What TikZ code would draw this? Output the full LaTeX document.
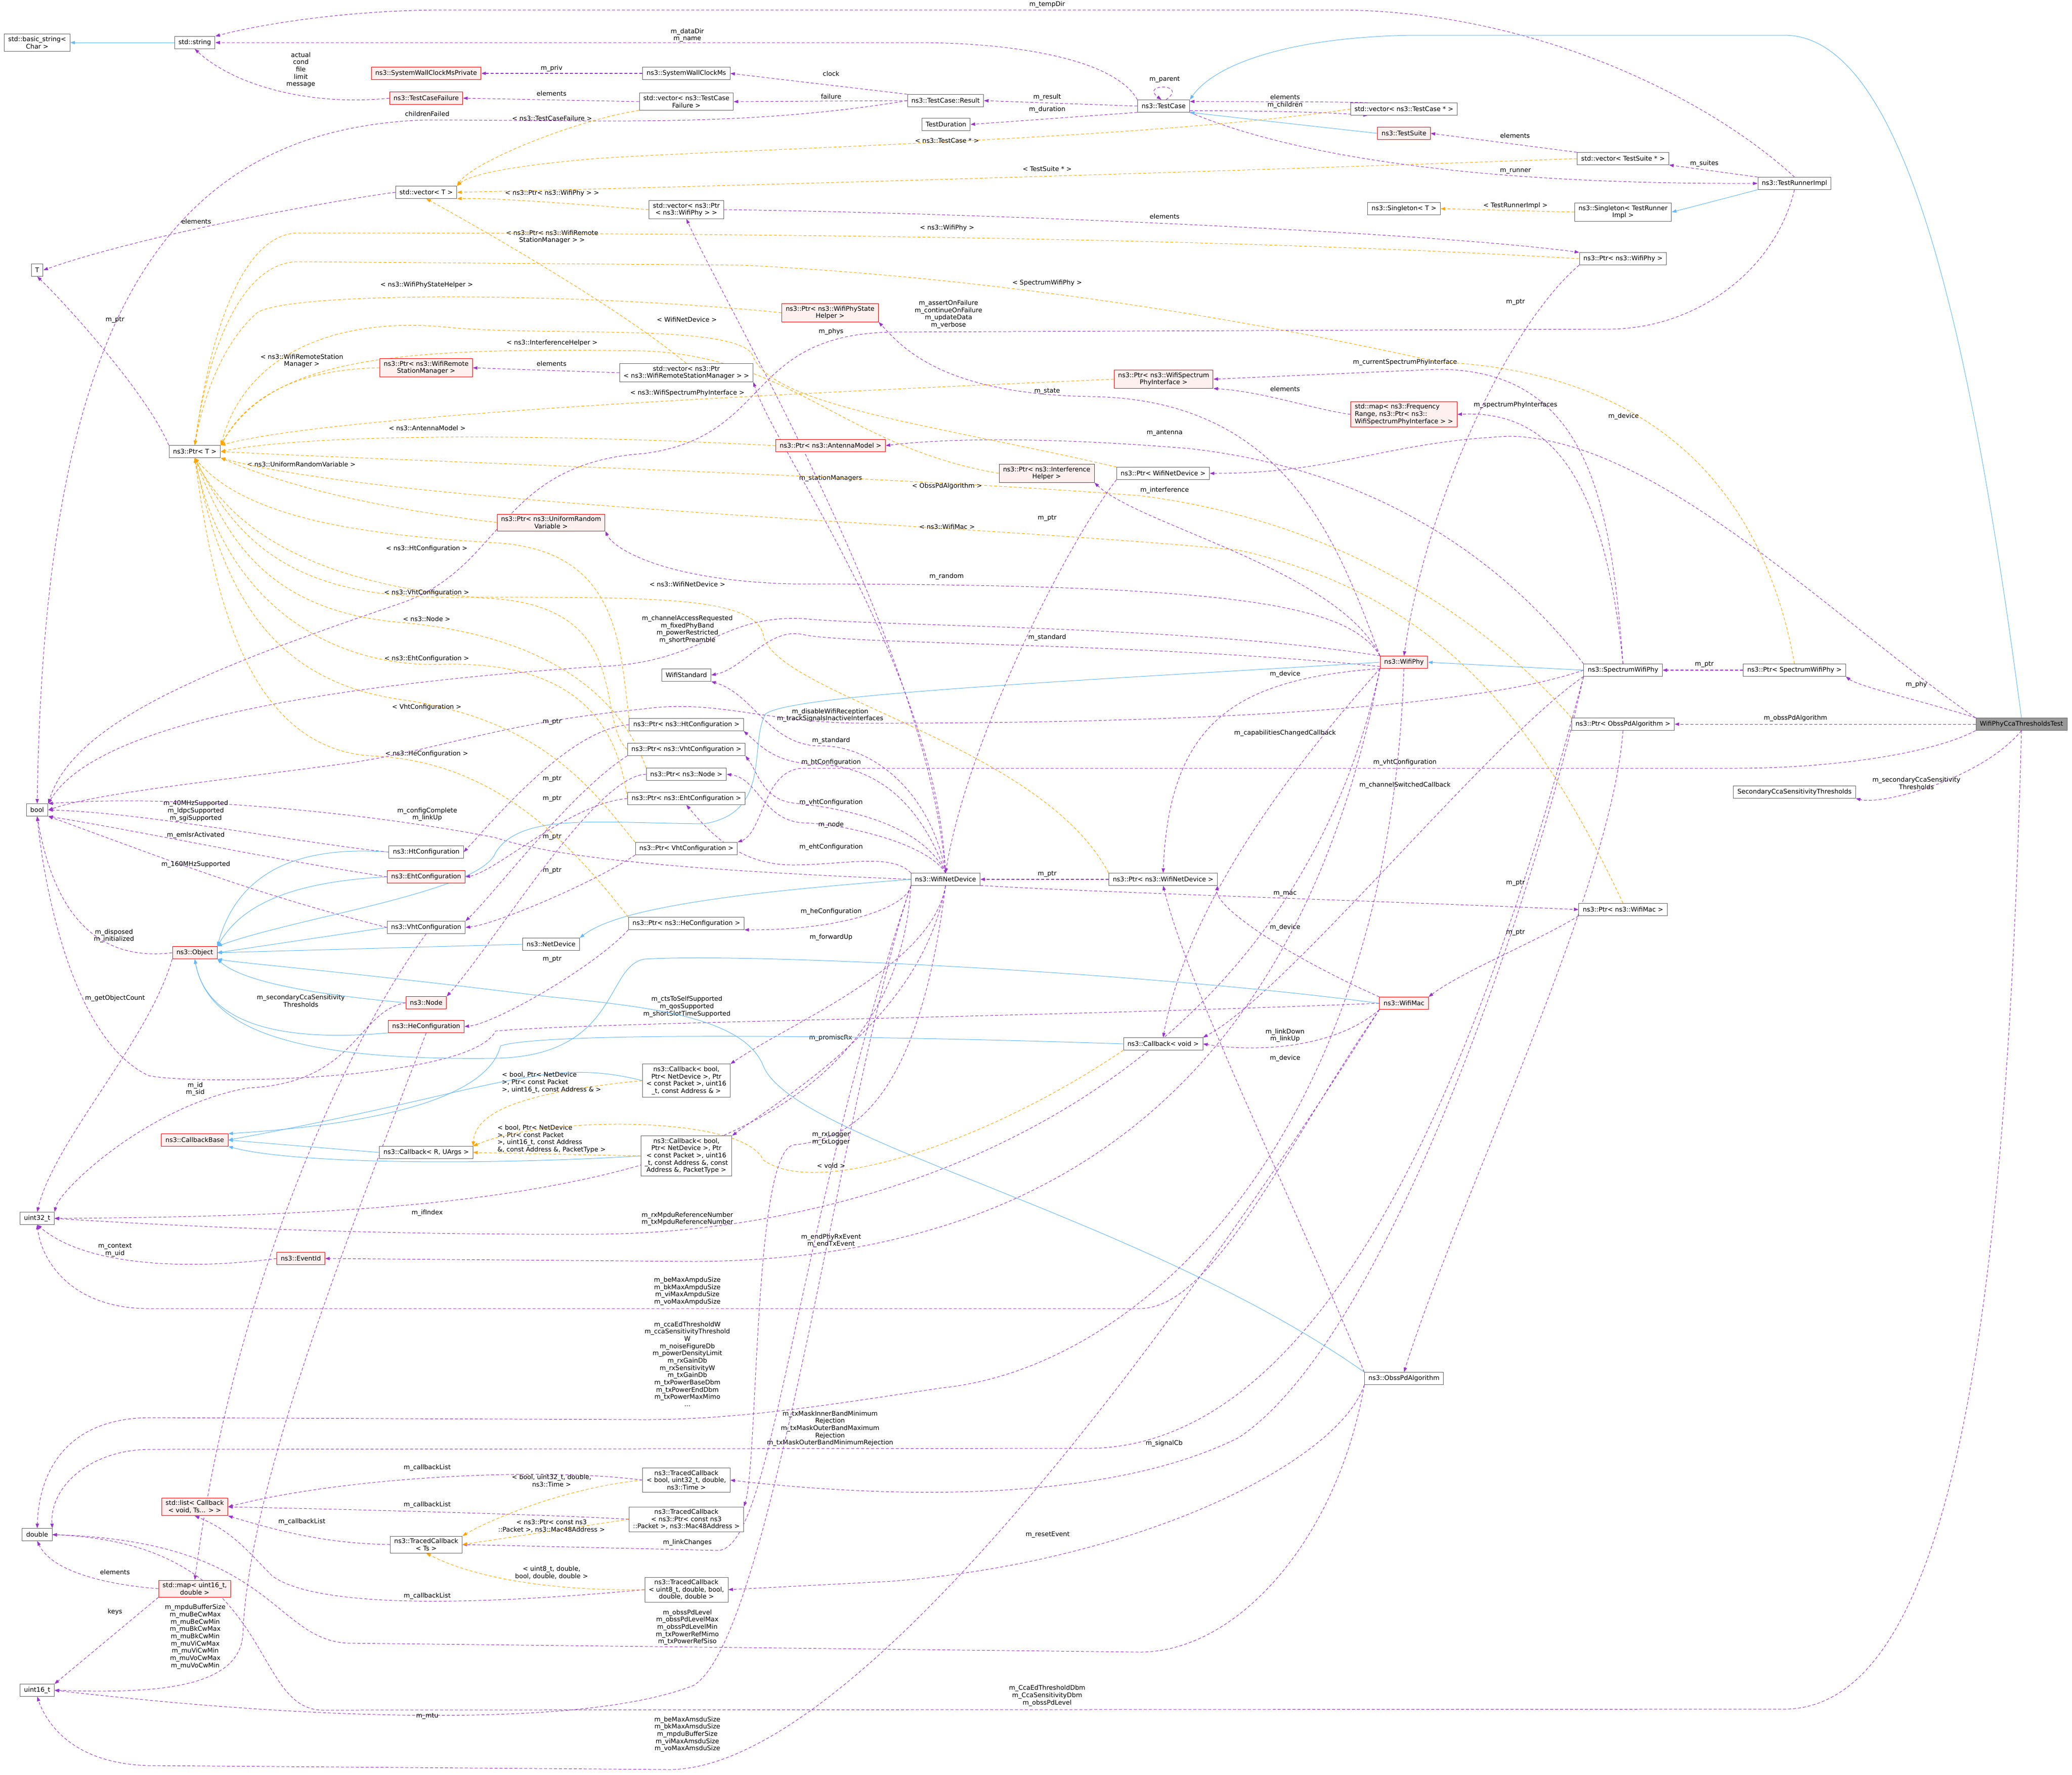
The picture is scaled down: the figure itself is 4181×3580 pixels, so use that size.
\documentclass[tikz,border=0pt]{standalone}
\usepackage{fontspec}
\setmainfont{DejaVu Sans}
\usetikzlibrary{arrows.meta,backgrounds}
\definecolor{memc}{HTML}{9A32CD}
\definecolor{inhc}{HTML}{63B8FF}
\definecolor{tmplc}{HTML}{FFA500}
\definecolor{boxgray}{HTML}{666666}
\definecolor{redfill}{HTML}{FFF0F0}
\definecolor{maingray}{HTML}{999999}
\begin{document}
\begin{tikzpicture}[x=0.75pt,y=-0.75pt,line cap=butt,line join=miter,>={Triangle[length=7pt,width=5pt]}]
\tikzset{
box/.style={draw=boxgray,fill=white,line width=0.75pt,font=\fontsize{9.7}{11}\selectfont,align=center,inner xsep=6pt,inner ysep=3.5pt,minimum height=18.5pt},
redbox/.style={box,draw=red,fill=redfill},
mainbox/.style={box,fill=maingray},
mem/.style={draw=memc,->,line width=0.75pt,dash pattern=on 4.5pt off 3pt},
tmpl/.style={mem,draw=tmplc},
inh/.style={draw=inhc,->,line width=0.75pt},
lbl/.style={font=\fontsize{9.7}{11}\selectfont,align=center,inner sep=0pt}
}
\useasboundingbox (0,0) rectangle (4181,3580);
\node[box] (bstr) at (75,86) {std::basic\_string<\\Char >};
\node[box] (str) at (393,86) {std::string};
\node[redbox] (swcmp) at (860,148) {ns3::SystemWallClockMsPrivate};
\node[redbox] (tcf) at (860,198) {ns3::TestCaseFailure};
\node[box] (vecT) at (860,388) {std::vector< T >};
\node[box] (T) at (75,545) {T};
\node[box] (ptrT) at (393,911) {ns3::Ptr< T >};
\node[redbox] (ptrWRSM) at (860,742) {ns3::Ptr< ns3::WifiRemote\\StationManager >};
\node[redbox] (ptrURV) at (1112,1054) {ns3::Ptr< ns3::UniformRandom\\Variable >};
\node[box] (htc) at (860,1719) {ns3::HtConfiguration};
\node[redbox] (ehtc) at (860,1769) {ns3::EhtConfiguration};
\node[box] (vhtc) at (860,1871) {ns3::VhtConfiguration};
\node[box] (netdev) at (1112,1905) {ns3::NetDevice};
\node[redbox] (object) at (393,1922) {ns3::Object};
\node[box] (nbool) at (75,1634) {bool};
\node[redbox] (node) at (860,2023) {ns3::Node};
\node[redbox] (hec) at (860,2071) {ns3::HeConfiguration};
\node[redbox] (cbbase) at (393,2300) {ns3::CallbackBase};
\node[box] (cbRU) at (860,2325) {ns3::Callback< R, UArgs >};
\node[box] (nuint32) at (75,2458) {uint32\_t};
\node[redbox] (eventid) at (607,2539) {ns3::EventId};
\node[box] (ndouble) at (75,3096) {double};
\node[redbox] (stdlist) at (393,3040) {std::list< Callback\\< void, Ts... > >};
\node[box] (tcTs) at (860,3116) {ns3::TracedCallback\\< Ts >};
\node[redbox] (map16) at (393,3205) {std::map< uint16\_t,\\double >};
\node[box] (nuint16) at (75,3410) {uint16\_t};
\node[box] (swcm) at (1385,148) {ns3::SystemWallClockMs};
\node[box] (vecTCF) at (1385,205) {std::vector< ns3::TestCase\\Failure >};
\node[box] (vecPtrPhy) at (1385,423) {std::vector< ns3::Ptr\\< ns3::WifiPhy > >};
\node[box] (vecPtrWRSM) at (1385,752) {std::vector< ns3::Ptr\\< ns3::WifiRemoteStationManager > >};
\node[box] (wstd) at (1385,1362) {WifiStandard};
\node[box] (ptrHt) at (1385,1462) {ns3::Ptr< ns3::HtConfiguration >};
\node[box] (ptrVht) at (1385,1512) {ns3::Ptr< ns3::VhtConfiguration >};
\node[box] (ptrNode) at (1385,1562) {ns3::Ptr< ns3::Node >};
\node[box] (ptrEht) at (1385,1611) {ns3::Ptr< ns3::EhtConfiguration >};
\node[box] (ptrVhtC) at (1385,1712) {ns3::Ptr< VhtConfiguration >};
\node[box] (ptrHe) at (1385,1863) {ns3::Ptr< ns3::HeConfiguration >};
\node[box] (cb4) at (1385,2180) {ns3::Callback< bool,\\Ptr< NetDevice >, Ptr\\< const Packet >, uint16\\\_t, const Address \& >};
\node[box] (cb5) at (1385,2332) {ns3::Callback< bool,\\Ptr< NetDevice >, Ptr\\< const Packet >, uint16\\\_t, const Address \&, const\\Address \&, PacketType >};
\node[box] (tcBool) at (1385,2986) {ns3::TracedCallback\\< bool, uint32\_t, double,\\ns3::Time >};
\node[box] (tcPkt) at (1385,3065) {ns3::TracedCallback\\< ns3::Ptr< const ns3\\::Packet >, ns3::Mac48Address >};
\node[box] (tcU8) at (1385,3207) {ns3::TracedCallback\\< uint8\_t, double, bool,\\double, double >};
\node[redbox] (ptrState) at (1675,631) {ns3::Ptr< ns3::WifiPhyState\\Helper >};
\node[redbox] (ptrAnt) at (1676,899) {ns3::Ptr< ns3::AntennaModel >};
\node[box] (result) at (1908,203) {ns3::TestCase::Result};
\node[box] (tdur) at (1909,251) {TestDuration};
\node[box] (wnd) at (1908,1774) {ns3::WifiNetDevice};
\node[redbox] (ptrIH) at (2112,955) {ns3::Ptr< ns3::Interference\\Helper >};
\node[box] (testcase) at (2348,214) {ns3::TestCase};
\node[redbox] (ptrWSPI) at (2348,765) {ns3::Ptr< ns3::WifiSpectrum\\PhyInterface >};
\node[box] (ptrWndT) at (2347,955) {ns3::Ptr< WifiNetDevice >};
\node[box] (ptrWnd) at (2347,1774) {ns3::Ptr< ns3::WifiNetDevice >};
\node[box] (cbVoid) at (2347,2106) {ns3::Callback< void >};
\node[box] (vecTC) at (2833,220) {std::vector< ns3::TestCase * >};
\node[redbox] (suite) at (2833,269) {ns3::TestSuite};
\node[box] (singT) at (2833,421) {ns3::Singleton< T >};
\node[redbox,align=left] (mapFR) at (2833,836) {std::map< ns3::Frequency\\Range, ns3::Ptr< ns3::\\WifiSpectrumPhyInterface > >};
\node[redbox] (wifiphy) at (2833,1336) {ns3::WifiPhy};
\node[redbox] (wifimac) at (2833,2024) {ns3::WifiMac};
\node[box] (obss) at (2833,2781) {ns3::ObssPdAlgorithm};
\node[box] (vecTS) at (3275,320) {std::vector< TestSuite * >};
\node[box] (singTR) at (3275,428) {ns3::Singleton< TestRunner\\Impl >};
\node[box] (ptrPhy) at (3275,522) {ns3::Ptr< ns3::WifiPhy >};
\node[box] (swphy) at (3275,1352) {ns3::SpectrumWifiPhy};
\node[box] (ptrObss) at (3275,1461) {ns3::Ptr< ObssPdAlgorithm >};
\node[box] (ptrMac) at (3275,1835) {ns3::Ptr< ns3::WifiMac >};
\node[box] (runner) at (3621,370) {ns3::TestRunnerImpl};
\node[box] (ptrSwphy) at (3621,1352) {ns3::Ptr< SpectrumWifiPhy >};
\node[box] (secCca) at (3621,1598) {SecondaryCcaSensitivityThresholds};
\node[mainbox] (main) at (4079,1461) {WifiPhyCcaThresholdsTest};
\begin{scope}[on background layer]
\draw[mem] (testcase.north west) .. controls (2250,120) and (2050,86) .. (1850,86) -- (str.east) node[lbl] at (1387,71) {m\_dataDir\\m\_name};
\draw[mem] (runner.north) .. controls (3450,200) and (3100,22) .. (2700,20) -- (900,20) .. controls (700,20) and (520,50) .. (str.north east) node[lbl] at (2113,9) {m\_tempDir};
\draw[mem] (tcf.west) .. controls (620,215) and (470,170) .. (str.south) node[lbl] at (607,141) {actual\\cond\\file\\limit\\message};
\draw[mem,line width=1.5pt] (swcm.west) -- (swcmp.east) node[lbl] at (1113,138) {m\_priv};
\draw[mem] (vecTCF.west) -- (tcf.east) node[lbl] at (1113,189) {elements};
\draw[mem] (result.west) .. controls (1500,258) and (1200,242) .. (860,242) .. controls (300,260) and (90,700) .. (nbool.north) node[lbl] at (862,230) {childrenFailed};
\draw[mem] (result.north west) -- (swcm.east) node[lbl] at (1677,149) {clock};
\draw[mem] (result.west) -- (vecTCF.east) node[lbl] at (1677,195) {failure};
\draw[mem] (testcase.west) -- (result.east) node[lbl] at (2113,196) {m\_result};
\draw[mem] (testcase.south west) -- (tdur.east) node[lbl] at (2113,221) {m\_duration};
\draw[mem] (testcase.70) .. controls (2400,168) and (2300,168) .. (testcase.110) node[lbl] at (2350,160) {m\_parent};
\draw[mem] (vecTC.170) .. controls (2700,205) and (2500,205) .. (testcase.10) node[lbl] at (2593,196) {elements};
\draw[mem] (testcase.350) .. controls (2500,224) and (2650,224) .. (vecTC.190) node[lbl] at (2593,212) {m\_children};
\draw[mem] (vecTS.north west) -- (suite.east) node[lbl] at (3057,274) {elements};
\draw[mem] (runner.north west) -- (vecTS.south east) node[lbl] at (3439,330) {m\_suites};
\draw[mem] (testcase.south east) .. controls (2600,310) and (2950,372) .. (runner.west) node[lbl] at (3058,345) {m\_runner};
\draw[mem] (runner.south) .. controls (3580,550) and (3420,662) .. (3250,664) -- (1800,670) .. controls (1500,675) and (1560,880) .. (1300,915) .. controls (1000,935) and (1020,1150) .. (800,1220) .. controls (450,1340) and (150,1450) .. (nbool.north east) node[lbl] at (1914,634) {m\_assertOnFailure\\m\_continueOnFailure\\m\_updateData\\m\_verbose};
\draw[mem] (vecPtrPhy.east) .. controls (2000,430) and (2900,470) .. (ptrPhy.north west) node[lbl] at (2350,437) {elements};
\draw[mem] (wnd.north) .. controls (1870,1300) and (1480,650) .. (vecPtrPhy.south) node[lbl] at (1677,669) {m\_phys};
\draw[mem] (vecPtrWRSM.west) -- (ptrWRSM.east) node[lbl] at (1113,734) {elements};
\draw[mem] (wnd.north) .. controls (1890,1350) and (1560,900) .. (vecPtrWRSM.south east) node[lbl] at (1676,965) {m\_stationManagers};
\draw[mem] (wifiphy.north west) .. controls (2700,1100) and (2600,805) .. (2200,800) .. controls (1900,795) and (1820,700) .. (ptrState.south east) node[lbl] at (2113,789) {m\_state};
\draw[mem] (ptrPhy.south west) .. controls (3050,650) and (2880,1000) .. (wifiphy.north) node[lbl] at (3058,609) {m\_ptr};
\draw[mem] (swphy.north) .. controls (3250,1000) and (3200,745) .. (2900,745) -- (ptrWSPI.east) node[lbl] at (2835,731) {m\_currentSpectrumPhyInterface};
\draw[mem] (mapFR.west) .. controls (2650,826) and (2550,790) .. (ptrWSPI.south east) node[lbl] at (2593,785) {elements};
\draw[mem] (swphy.north) .. controls (3240,1000) and (3150,826) .. (mapFR.east) node[lbl] at (3058,817) {m\_spectrumPhyInterfaces};
\draw[mem] (main.north west) .. controls (3700,1250) and (3350,890) .. (3050,880) .. controls (2800,890) and (2700,955) .. (ptrWndT.east) node[lbl] at (3276,840) {m\_device};
\draw[mem] (swphy.north west) .. controls (3050,1150) and (2800,950) .. (2400,905) .. controls (2100,880) and (1900,885) .. (ptrAnt.east) node[lbl] at (2350,873) {m\_antenna};
\draw[mem] (wifiphy.north west) .. controls (2700,1150) and (2300,1060) .. (ptrIH.south east) node[lbl] at (2350,989) {m\_interference};
\draw[mem] (wifiphy.north west) .. controls (2720,1220) and (2500,1178) .. (1600,1178) .. controls (1350,1172) and (1240,1110) .. (ptrURV.south east) node[lbl] at (1910,1163) {m\_random};
\draw[mem] (wifiphy.165) .. controls (2400,1262) and (1800,1265) .. (1620,1248) .. controls (1450,1240) and (1420,1340) .. (1200,1345) .. controls (700,1380) and (200,1450) .. (nbool.north east) node[lbl] at (1387,1270) {m\_channelAccessRequested\\m\_fixedPhyBand\\m\_powerRestricted\\m\_shortPreamble};
\draw[mem] (wifiphy.190) .. controls (2300,1296) and (1700,1300) .. (1620,1280) .. controls (1550,1265) and (1500,1350) .. (wstd.east) node[lbl] at (2113,1286) {m\_standard};
\draw[mem] (wnd.north) .. controls (1880,1600) and (1760,1500) .. (1650,1505) .. controls (1550,1500) and (1520,1400) .. (wstd.south east) node[lbl] at (1677,1494) {m\_standard};
\draw[mem] (swphy.west) .. controls (3000,1420) and (2500,1460) .. (1750,1459) .. controls (1550,1460) and (1450,1410) .. (1300,1430) .. controls (1000,1460) and (900,1510) .. (700,1540) .. controls (400,1580) and (200,1600) .. (nbool.east) node[lbl] at (1675,1443) {m\_disableWifiReception\\m\_trackSignalsInactiveInterfaces};
\draw[mem] (wnd.north) .. controls (1850,1600) and (1750,1545) .. (1650,1542) .. controls (1560,1540) and (1530,1500) .. (ptrHt.south east) node[lbl] at (1677,1538) {m\_htConfiguration};
\draw[mem] (main.south west) .. controls (3900,1520) and (3700,1550) .. (3500,1550) -- (1620,1550) .. controls (1540,1552) and (1540,1680) .. (ptrVhtC.north east) node[lbl] at (2835,1538) {m\_vhtConfiguration};
\draw[mem] (wnd.north) .. controls (1860,1660) and (1700,1630) .. (1600,1620) .. controls (1540,1612) and (1530,1560) .. (ptrVht.south east) node[lbl] at (1677,1619) {m\_vhtConfiguration};
\draw[mem] (wnd.north) .. controls (1870,1700) and (1700,1662) .. (1620,1660) .. controls (1540,1655) and (1530,1570) .. (ptrNode.east) node[lbl] at (1677,1664) {m\_node};
\draw[mem] (wnd.north west) .. controls (1800,1720) and (1700,1745) .. (1600,1745) .. controls (1500,1745) and (1440,1690) .. (ptrEht.south) node[lbl] at (1677,1709) {m\_ehtConfiguration};
\draw[mem] (wnd.south west) .. controls (1830,1830) and (1700,1877) .. (ptrHe.south east) node[lbl] at (1677,1839) {m\_heConfiguration};
\draw[mem] (ptrHt.west) .. controls (1150,1470) and (1000,1650) .. (htc.east) node[lbl] at (1114,1456) {m\_ptr};
\draw[mem] (ptrNode.west) .. controls (1200,1565) and (1000,1900) .. (node.north east) node[lbl] at (1114,1571) {m\_ptr};
\draw[mem] (ptrEht.west) .. controls (1150,1620) and (1000,1760) .. (ehtc.east) node[lbl] at (1114,1611) {m\_ptr};
\draw[mem] (ptrVht.south west) .. controls (1150,1600) and (1000,1800) .. (vhtc.north east) node[lbl] at (1114,1688) {m\_ptr};
\draw[mem] (ptrVhtC.south west) .. controls (1200,1780) and (1000,1865) .. (vhtc.east) node[lbl] at (1114,1756) {m\_ptr};
\draw[mem] (ptrHe.south west) .. controls (1200,1950) and (1000,2065) .. (hec.east) node[lbl] at (1114,1935) {m\_ptr};
\draw[mem] (htc.west) .. controls (600,1700) and (300,1640) .. (nbool.east) node[lbl] at (395,1636) {m\_40MHzSupported\\m\_ldpcSupported\\m\_sgiSupported};
\draw[mem] (ehtc.west) .. controls (500,1725) and (300,1680) .. (nbool.south east) node[lbl] at (395,1685) {m\_emlsrActivated};
\draw[mem] (vhtc.west) .. controls (500,1800) and (300,1720) .. (nbool.south east) node[lbl] at (395,1744) {m\_160MHzSupported};
\draw[mem] (wnd.west) .. controls (1500,1760) and (1150,1740) .. (1000,1690) .. controls (800,1650) and (400,1600) .. (nbool.north east) node[lbl] at (862,1643) {m\_configComplete\\m\_linkUp};
\draw[mem] (object.west) .. controls (200,1940) and (110,1850) .. (nbool.south) node[lbl] at (230,1888) {m\_disposed\\m\_initialized};
\draw[mem] (object.south west) .. controls (300,2100) and (110,2300) .. (nuint32.north) node[lbl] at (232,2014) {m\_getObjectCount};
\draw[mem] (node.west) .. controls (720,2040) and (720,2185) .. (500,2195) .. controls (300,2230) and (120,2400) .. (nuint32.north east) node[lbl] at (394,2197) {m\_id\\m\_sid};
\draw[mem] (wifimac.west) .. controls (2000,2055) and (1200,2062) .. (1000,2080) .. controls (950,2180) and (400,2190) .. (300,2170) .. controls (150,2100) and (90,1800) .. (nbool.south) node[lbl] at (1386,2031) {m\_ctsToSelfSupported\\m\_qosSupported\\m\_shortSlotTimeSupported};
\draw[mem] (wnd.south west) .. controls (1800,2400) and (1000,2452) .. (nuint32.east) node[lbl] at (862,2447) {m\_ifIndex};
\draw[mem] (wifiphy.south west) .. controls (2600,2200) and (1800,2487) .. (1200,2490) .. controls (700,2492) and (300,2470) .. (nuint32.east) node[lbl] at (1387,2459) {m\_rxMpduReferenceNumber\\m\_txMpduReferenceNumber};
\draw[mem] (wifiphy.south west) .. controls (2600,2300) and (2000,2542) .. (1400,2545) -- (eventid.east) node[lbl] at (1677,2503) {m\_endPhyRxEvent\\m\_endTxEvent};
\draw[mem] (eventid.west) .. controls (400,2560) and (180,2560) .. (nuint32.south) node[lbl] at (232,2522) {m\_context\\m\_uid};
\draw[mem] (wifimac.south west) .. controls (2600,2300) and (2450,2640) .. (2300,2640) -- (300,2640) .. controls (150,2640) and (85,2550) .. (nuint32.south) node[lbl] at (1387,2605) {m\_beMaxAmpduSize\\m\_bkMaxAmpduSize\\m\_viMaxAmpduSize\\m\_voMaxAmpduSize};
\draw[mem] (wifiphy.south) .. controls (2800,2300) and (2300,2760) .. (1900,2800) .. controls (1700,2830) and (1500,2864) .. (1300,2864) -- (300,2860) .. controls (150,2862) and (80,2950) .. (ndouble.north) node[lbl] at (1387,2752) {m\_ccaEdThresholdW\\m\_ccaSensitivityThreshold\\W\\m\_noiseFigureDb\\m\_powerDensityLimit\\m\_rxGainDb\\m\_rxSensitivityW\\m\_txGainDb\\m\_txPowerBaseDbm\\m\_txPowerEndDbm\\m\_txPowerMaxMimo\\...};
\draw[mem] (swphy.south west) .. controls (3000,2100) and (2700,2914) .. (2200,2922) -- (300,2924) .. controls (180,2926) and (100,3000) .. (ndouble.north east) node[lbl] at (1675,2882) {m\_txMaskInnerBandMinimum\\Rejection\\m\_txMaskOuterBandMaximum\\Rejection\\m\_txMaskOuterBandMinimumRejection};
\draw[mem] (obss.south west) .. controls (2700,3100) and (2500,3333) .. (2300,3333) -- (700,3315) .. controls (550,3305) and (550,3110) .. (ndouble.east) node[lbl] at (1387,3283) {m\_obssPdLevel\\m\_obssPdLevelMax\\m\_obssPdLevelMin\\m\_txPowerRefMimo\\m\_txPowerRefSiso};
\draw[mem] (main.south) .. controls (4050,2600) and (3950,3448) .. (3600,3448) -- (650,3450) .. controls (500,3447) and (560,3115) .. (ndouble.east) node[lbl] at (2113,3421) {m\_CcaEdThresholdDbm\\m\_CcaSensitivityDbm\\m\_obssPdLevel};
\draw[mem] (wnd.south west) .. controls (1700,2200) and (1560,3300) .. (1400,3400) .. controls (1200,3480) and (700,3478) .. (nuint16.east) node[lbl] at (862,3462) {m\_mtu};
\draw[mem] (hec.south) .. controls (700,2500) and (500,3000) .. (490,3300) .. controls (480,3410) and (300,3416) .. (nuint16.east) node[lbl] at (394,3302) {m\_mpduBufferSize\\m\_muBeCwMax\\m\_muBeCwMin\\m\_muBkCwMax\\m\_muBkCwMin\\m\_muViCwMax\\m\_muViCwMin\\m\_muVoCwMax\\m\_muVoCwMin};
\draw[mem] (wifimac.south west) .. controls (2300,2800) and (1700,3570) .. (1350,3570) -- (300,3562) .. controls (150,3558) and (95,3480) .. (nuint16.south) node[lbl] at (1387,3499) {m\_beMaxAmsduSize\\m\_bkMaxAmsduSize\\m\_mpduBufferSize\\m\_viMaxAmsduSize\\m\_voMaxAmsduSize};
\draw[mem] (map16.west) .. controls (250,3200) and (110,3180) .. (ndouble.south) node[lbl] at (232,3172) {elements};
\draw[mem] (map16.south west) -- (nuint16.north east) node[lbl] at (232,3252) {keys};
\draw[mem] (vhtc.south) .. controls (700,2100) and (470,2600) .. (map16.north) node[lbl] at (607,2019) {m\_secondaryCcaSensitivity\\Thresholds};
\draw[mem] (tcBool.west) .. controls (1100,2960) and (700,2978) .. (stdlist.east) node[lbl] at (862,2961) {m\_callbackList};
\draw[mem] (tcPkt.west) .. controls (1100,3055) and (700,3045) .. (stdlist.east) node[lbl] at (862,3036) {m\_callbackList};
\draw[mem] (tcTs.west) .. controls (650,3114) and (550,3085) .. (stdlist.south east) node[lbl] at (609,3070) {m\_callbackList};
\draw[mem] (tcU8.west) .. controls (1000,3235) and (650,3250) .. (550,3180) .. controls (500,3130) and (470,3090) .. (stdlist.south) node[lbl] at (862,3220) {m\_callbackList};
\draw[mem] (wnd.south west) .. controls (1600,2500) and (1560,3120) .. (1450,3128) -- (tcTs.east) node[lbl] at (1387,3112) {m\_linkChanges};
\draw[mem] (wnd.south) .. controls (1850,2250) and (1700,2300) .. (1600,2310) .. controls (1520,2330) and (1530,2950) .. (tcPkt.north east) node[lbl] at (1677,2297) {m\_rxLogger\\m\_txLogger};
\draw[mem] (wnd.south) .. controls (1880,1950) and (1600,2060) .. (cb4.north east) node[lbl] at (1677,1891) {m\_forwardUp};
\draw[mem] (wnd.south) .. controls (1860,2050) and (1600,2200) .. (cb5.north east) node[lbl] at (1676,2094) {m\_promiscRx};
\draw[mem] (swphy.south west) .. controls (3100,1800) and (2800,2700) .. (2500,2900) .. controls (2200,3050) and (1700,3012) .. (tcBool.east) node[lbl] at (2349,2912) {m\_signalCb};
\draw[mem] (obss.south west) .. controls (2700,2950) and (2300,3150) .. (1800,3190) -- (tcU8.east) node[lbl] at (2114,3096) {m\_resetEvent};
\draw[mem] (wifiphy.south west) .. controls (2650,1500) and (2400,1800) .. (cbVoid.north) node[lbl] at (2593,1479) {m\_capabilitiesChangedCallback};
\draw[mem] (swphy.south west) .. controls (3000,1500) and (2600,2000) .. (cbVoid.north east) node[lbl] at (2835,1584) {m\_channelSwitchedCallback};
\draw[mem] (wifimac.south west) .. controls (2700,2110) and (2550,2125) .. (cbVoid.east) node[lbl] at (2593,2089) {m\_linkDown\\m\_linkUp};
\draw[mem] (wifiphy.south west) .. controls (2500,1370) and (2360,1450) .. (ptrWnd.north) node[lbl] at (2593,1360) {m\_device};
\draw[mem] (wifimac.north west) .. controls (2600,1930) and (2450,1830) .. (ptrWnd.south east) node[lbl] at (2593,1871) {m\_device};
\draw[mem] (obss.north west) .. controls (2600,2400) and (2400,2000) .. (ptrWnd.south) node[lbl] at (2593,2135) {m\_device};
\draw[mem,line width=1.5pt] (ptrWnd.west) -- (wnd.east) node[lbl] at (2113,1763) {m\_ptr};
\draw[mem] (wnd.350) .. controls (2200,1800) and (2800,1818) .. (ptrMac.west) node[lbl] at (2593,1803) {m\_mac};
\draw[mem] (ptrMac.south west) .. controls (3100,1900) and (2950,1960) .. (wifimac.north east) node[lbl] at (3058,1881) {m\_ptr};
\draw[mem] (ptrObss.south) .. controls (3250,1800) and (2950,2400) .. (obss.north) node[lbl] at (3058,1781) {m\_ptr};
\draw[mem,line width=1.5pt] (ptrSwphy.west) -- (swphy.east) node[lbl] at (3439,1340) {m\_ptr};
\draw[mem] (main.north west) .. controls (3900,1420) and (3750,1385) .. (ptrSwphy.south east) node[lbl] at (3867,1381) {m\_phy};
\draw[mem] (main.west) -- (ptrObss.east) node[lbl] at (3623,1449) {m\_obssPdAlgorithm};
\draw[mem] (main.south) .. controls (4000,1570) and (3800,1625) .. (secCca.south east) node[lbl] at (3867,1580) {m\_secondaryCcaSensitivity\\Thresholds};
\draw[mem] (ptrT.north west) .. controls (300,800) and (140,620) .. (T.south) node[lbl] at (232,645) {m\_ptr};
\draw[mem] (vecT.west) .. controls (700,400) and (300,470) .. (T.east) node[lbl] at (396,447) {elements};
\draw[mem] (ptrWndT.south west) .. controls (2150,1100) and (1950,1500) .. (wnd.north) node[lbl] at (2113,1045) {m\_ptr};
\draw[inh] (str.west) -- (bstr.east);
\draw[inh] (suite.west) -- (testcase.south east);
\draw[inh] (main.north) .. controls (3980,700) and (3850,71) .. (3600,71) -- (2850,71) .. controls (2600,75) and (2450,130) .. (testcase.north east);
\draw[inh] (runner.south west) -- (singTR.east);
\draw[inh] (swphy.west) -- (wifiphy.east);
\draw[inh] (wifiphy.west) .. controls (2200,1372) and (1600,1400) .. (1545,1440) .. controls (1510,1500) and (1560,1640) .. (1420,1662) .. controls (1200,1660) and (1050,1640) .. (1000,1720) .. controls (970,1800) and (600,1850) .. (object.north east);
\draw[inh] (htc.west) .. controls (600,1705) and (480,1760) .. (object.north east);
\draw[inh] (ehtc.west) .. controls (560,1780) and (480,1840) .. (object.north east);
\draw[inh] (vhtc.west) -- (object.east);
\draw[inh] (netdev.west) -- (object.east);
\draw[inh] (node.west) .. controls (700,2012) and (500,1990) .. (object.south east);
\draw[inh] (hec.south west) .. controls (600,2100) and (420,2080) .. (object.south);
\draw[inh] (wifimac.west) .. controls (2300,1960) and (1500,1922) .. (1300,1935) .. controls (1220,1950) and (1250,2130) .. (1000,2135) .. controls (600,2140) and (420,2080) .. (object.south);
\draw[inh] (obss.north west) .. controls (2300,2450) and (1600,2300) .. (1540,2150) .. controls (1500,2050) and (1300,2030) .. (1100,2010) .. controls (700,1960) and (500,1945) .. (object.south east);
\draw[inh] (wnd.west) .. controls (1500,1800) and (1250,1830) .. (netdev.north east);
\draw[inh] (cbVoid.west) .. controls (1800,2090) and (1100,2080) .. (1010,2110) .. controls (980,2230) and (700,2272) .. (cbbase.north east);
\draw[inh] (cb4.west) .. controls (1100,2130) and (1000,2200) .. (cbbase.east);
\draw[inh] (cbRU.west) -- (cbbase.east);
\draw[inh] (cb5.west) .. controls (1000,2350) and (600,2350) .. (cbbase.south east);
\draw[tmpl] (vecTCF.south west) .. controls (1150,245) and (950,330) .. (vecT.north east) node[lbl] at (1114,239) {< ns3::TestCaseFailure >};
\draw[tmpl] (vecTC.west) .. controls (2300,282) and (1500,300) .. (1200,320) .. controls (1050,333) and (950,350) .. (vecT.north east) node[lbl] at (1911,284) {< ns3::TestCase * >};
\draw[tmpl] (vecTS.west) .. controls (2500,345) and (1500,375) .. (vecT.east) node[lbl] at (2113,341) {< TestSuite * >};
\draw[tmpl] (vecPtrPhy.west) .. controls (1200,415) and (1000,398) .. (vecT.south east) node[lbl] at (1114,390) {< ns3::Ptr< ns3::WifiPhy > >};
\draw[tmpl] (vecPtrWRSM.north) .. controls (1250,620) and (950,450) .. (vecT.south) node[lbl] at (1114,478) {< ns3::Ptr< ns3::WifiRemote\\StationManager > >};
\draw[tmpl] (singTR.west) -- (singT.east) node[lbl] at (3058,415) {< TestRunnerImpl >};
\draw[tmpl] (ptrPhy.west) .. controls (2500,480) and (1500,470) .. (600,470) .. controls (480,474) and (420,700) .. (ptrT.north) node[lbl] at (1911,460) {< ns3::WifiPhy >};
\draw[tmpl] (ptrSwphy.north) .. controls (3560,1000) and (3350,750) .. (2900,730) .. controls (2500,640) and (2000,560) .. (1500,535) -- (600,528) .. controls (490,530) and (420,700) .. (ptrT.north) node[lbl] at (2113,571) {< SpectrumWifiPhy >};
\draw[tmpl] (ptrState.west) .. controls (1200,592) and (600,585) .. (520,630) .. controls (450,690) and (410,800) .. (ptrT.north) node[lbl] at (861,575) {< ns3::WifiPhyStateHelper >};
\draw[tmpl] (ptrWndT.north west) .. controls (1900,860) and (1560,820) .. (1520,720) .. controls (1500,650) and (1100,680) .. (900,660) .. controls (700,640) and (500,700) .. (ptrT.north east) node[lbl] at (1386,645) {< WifiNetDevice >};
\draw[tmpl] (ptrIH.west) .. controls (1700,900) and (1600,720) .. (1300,708) .. controls (800,700) and (550,720) .. (ptrT.north east) node[lbl] at (1114,692) {< ns3::InterferenceHelper >};
\draw[tmpl] (ptrWRSM.west) .. controls (600,745) and (500,800) .. (ptrT.north east) node[lbl] at (609,728) {< ns3::WifiRemoteStation\\Manager >};
\draw[tmpl] (ptrWSPI.west) .. controls (1800,785) and (700,830) .. (ptrT.north east) node[lbl] at (1387,793) {< ns3::WifiSpectrumPhyInterface >};
\draw[tmpl] (ptrAnt.west) .. controls (1000,870) and (600,880) .. (ptrT.east) node[lbl] at (862,864) {< ns3::AntennaModel >};
\draw[tmpl] (ptrURV.west) .. controls (800,1030) and (600,990) .. (ptrT.south east) node[lbl] at (608,937) {< ns3::UniformRandomVariable >};
\draw[tmpl] (ptrObss.north west) .. controls (3000,1250) and (2700,1050) .. (2300,1000) .. controls (1800,960) and (800,930) .. (ptrT.east) node[lbl] at (1911,981) {< ObssPdAlgorithm >};
\draw[tmpl] (ptrMac.north) .. controls (3100,1450) and (2900,1200) .. (2500,1110) .. controls (2000,1060) and (800,1020) .. (ptrT.south east) node[lbl] at (1911,1063) {< ns3::WifiMac >};
\draw[tmpl] (ptrWnd.north west) .. controls (2100,1500) and (1560,1400) .. (1540,1280) .. controls (1520,1200) and (1300,1205) .. (900,1205) .. controls (600,1205) and (480,1100) .. (ptrT.south) node[lbl] at (1387,1179) {< ns3::WifiNetDevice >};
\draw[tmpl] (ptrHt.north west) .. controls (1250,1300) and (1250,1110) .. (1000,1095) .. controls (750,1080) and (500,1050) .. (ptrT.south) node[lbl] at (861,1107) {< ns3::HtConfiguration >};
\draw[tmpl] (ptrVht.west) .. controls (1200,1450) and (1280,1230) .. (1000,1208) .. controls (700,1190) and (480,1100) .. (ptrT.south) node[lbl] at (861,1196) {< ns3::VhtConfiguration >};
\draw[tmpl] (ptrNode.north west) .. controls (1250,1400) and (1100,1280) .. (800,1255) .. controls (550,1230) and (460,1100) .. (ptrT.south) node[lbl] at (861,1249) {< ns3::Node >};
\draw[tmpl] (ptrEht.west) .. controls (1250,1500) and (1200,1335) .. (900,1340) .. controls (650,1350) and (450,1200) .. (ptrT.south) node[lbl] at (861,1329) {< ns3::EhtConfiguration >};
\draw[tmpl] (ptrVhtC.north west) .. controls (1200,1600) and (1100,1450) .. (800,1410) .. controls (550,1370) and (450,1200) .. (ptrT.south) node[lbl] at (861,1427) {< VhtConfiguration >};
\draw[tmpl] (ptrHe.north west) .. controls (1150,1700) and (1000,1535) .. (750,1525) .. controls (500,1510) and (430,1200) .. (ptrT.south) node[lbl] at (861,1521) {< ns3::HeConfiguration >};
\draw[tmpl] (cb4.west) .. controls (1100,2200) and (960,2230) .. (cbRU.north east) node[lbl,align=left] at (1113,2184) {< bool, Ptr< NetDevice\\>, Ptr< const Packet\\>, uint16\_t, const Address \& >};
\draw[tmpl] (cb5.west) -- (cbRU.east) node[lbl,align=left] at (1113,2298) {< bool, Ptr< NetDevice\\>, Ptr< const Packet\\>, uint16\_t, const Address\\\&, const Address \&, PacketType >};
\draw[tmpl] (cbVoid.south west) .. controls (2000,2300) and (1650,2420) .. (1540,2340) .. controls (1500,2250) and (1100,2250) .. (cbRU.north east) node[lbl] at (1677,2352) {< void >};
\draw[tmpl] (tcBool.west) .. controls (1150,3000) and (1000,3060) .. (tcTs.north east) node[lbl] at (1113,2987) {< bool, uint32\_t, double,\\ns3::Time >};
\draw[tmpl] (tcPkt.west) -- (tcTs.east) node[lbl] at (1113,3079) {< ns3::Ptr< const ns3\\::Packet >, ns3::Mac48Address >};
\draw[tmpl] (tcU8.west) .. controls (1100,3210) and (950,3180) .. (tcTs.south) node[lbl] at (1113,3173) {< uint8\_t, double,\\bool, double, double >};
\end{scope}
\end{tikzpicture}
\end{document}
